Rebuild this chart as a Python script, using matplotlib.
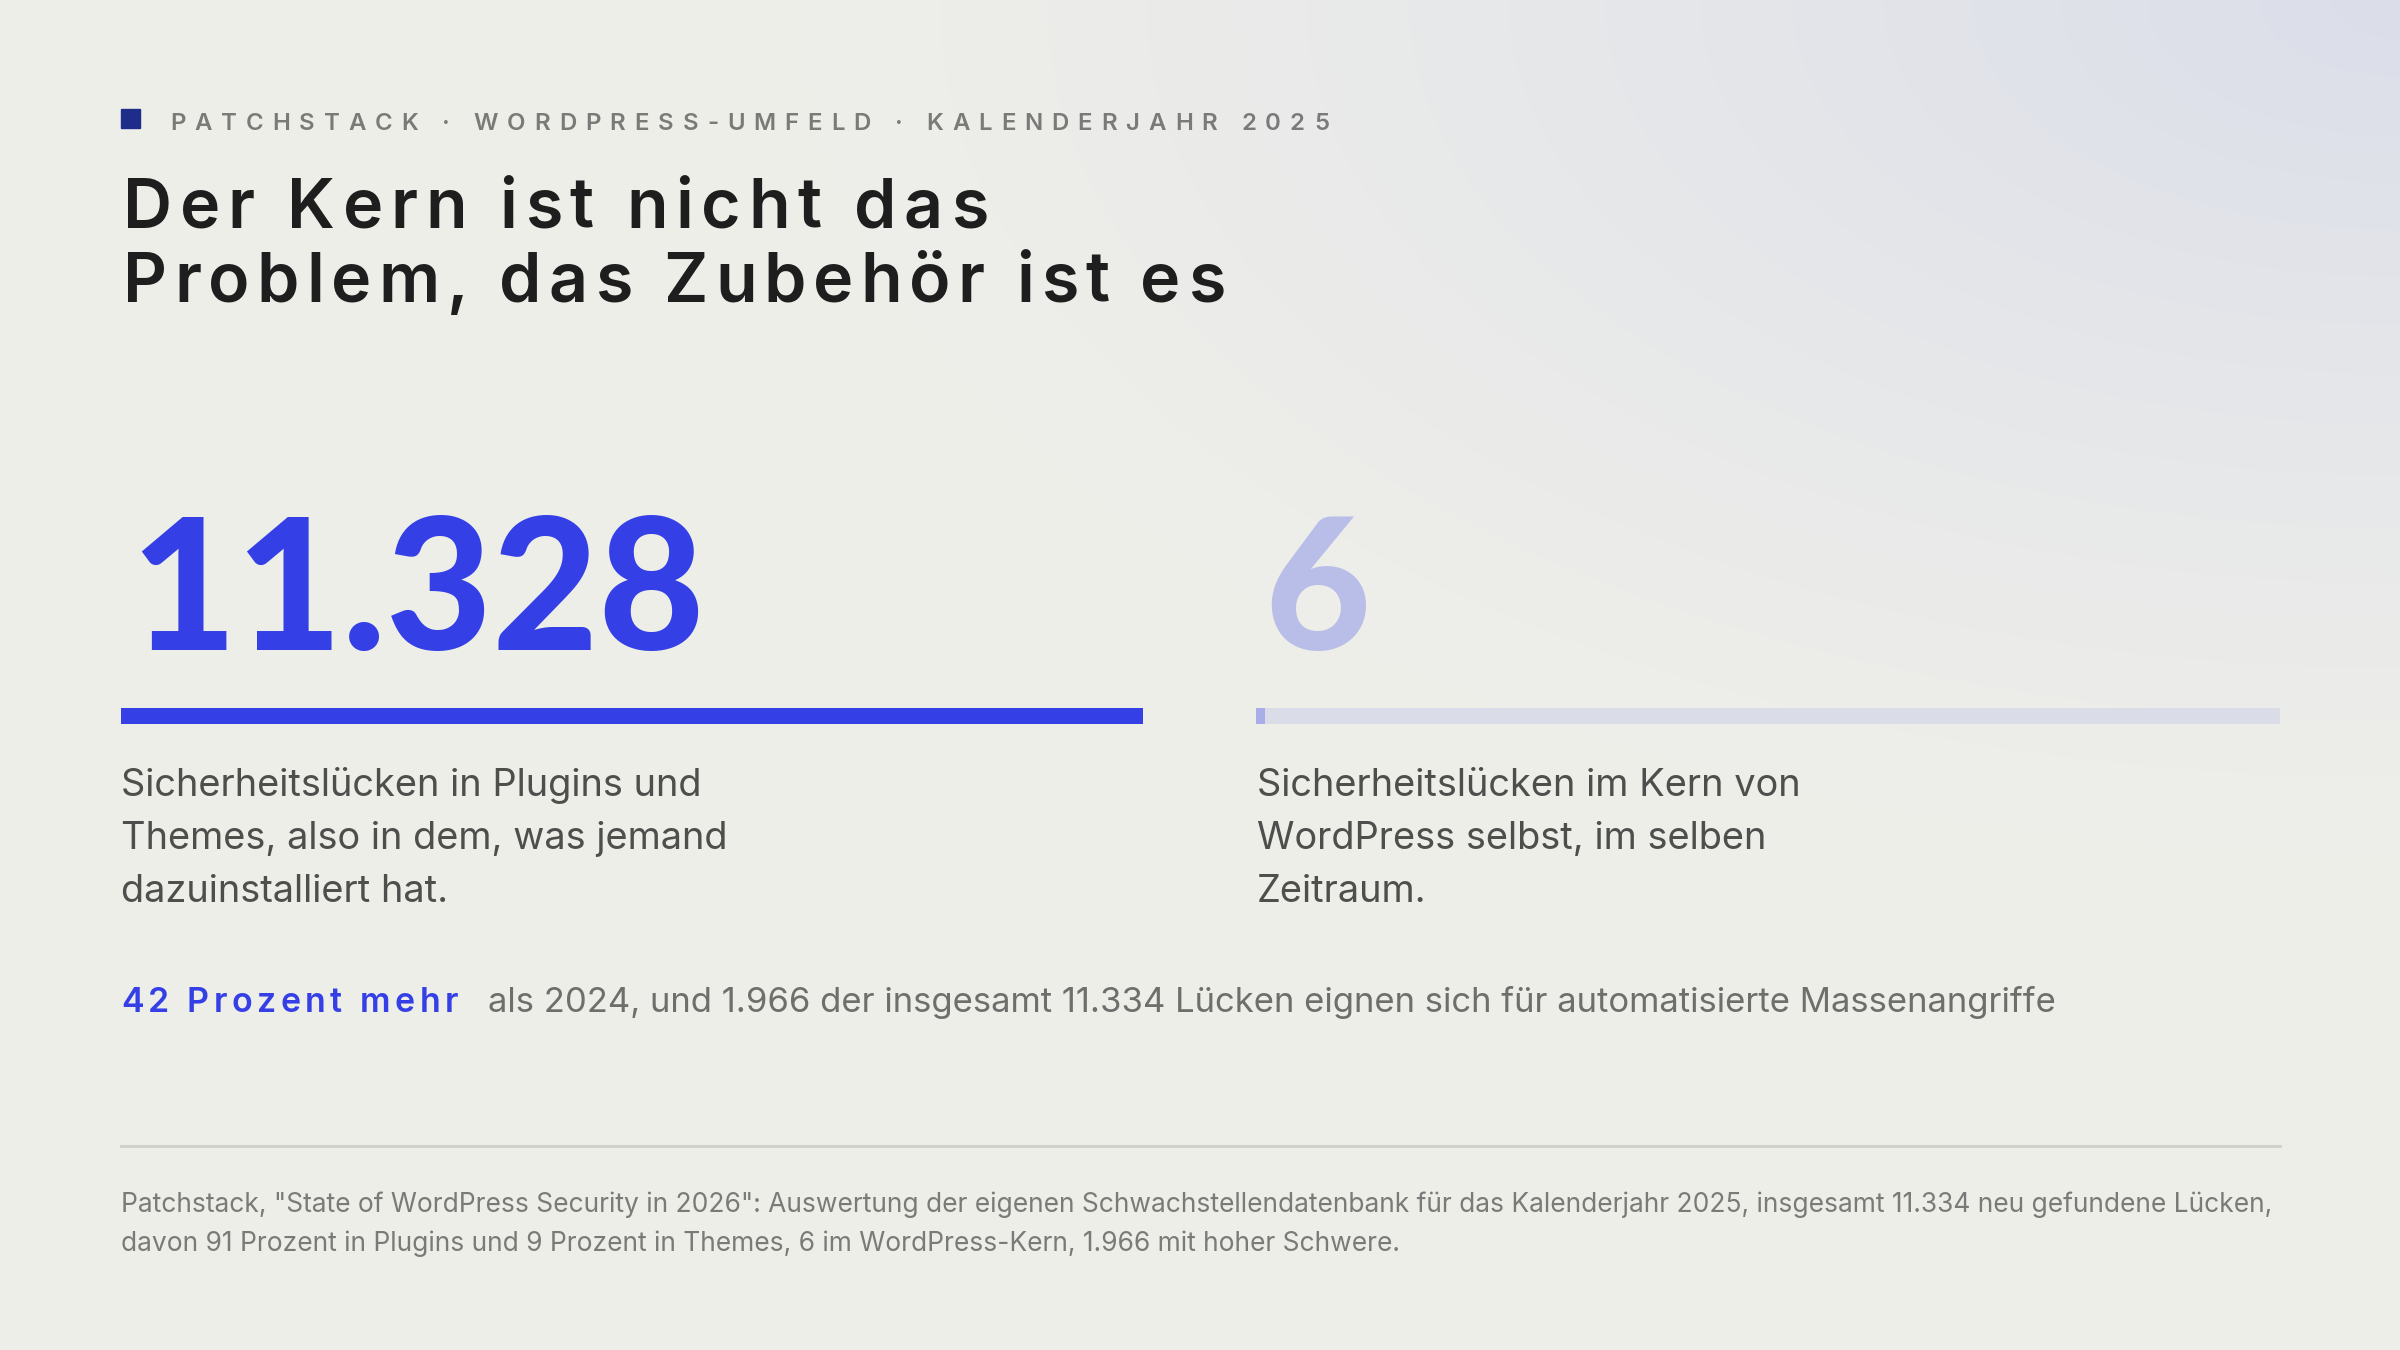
import matplotlib
matplotlib.use("Agg")
import matplotlib.pyplot as plt
import numpy as np
from matplotlib.font_manager import FontProperties

# ---------------- data ----------------
kicker = "PATCHSTACK · WORDPRESS-UMFELD · KALENDERJAHR 2025"
title_lines = ["Der Kern ist nicht das", "Problem, das Zubehör ist es"]
categories = ["Plugins und Themes", "WordPress-Kern"]
values = [11328, 6]
desc_left = ["Sicherheitslücken in Plugins und", "Themes, also in dem, was jemand", "dazuinstalliert hat."]
desc_right = ["Sicherheitslücken im Kern von", "WordPress selbst, im selben", "Zeitraum."]
highlight_strong = "42 Prozent mehr"
highlight_rest = "als 2024, und 1.966 der insgesamt 11.334 Lücken eignen sich für automatisierte Massenangriffe"
footer_lines = [
    'Patchstack, "State of WordPress Security in 2026": Auswertung der eigenen Schwachstellendatenbank für das Kalenderjahr 2025, insgesamt 11.334 neu gefundene Lücken,',
    "davon 91 Prozent in Plugins und 9 Prozent in Themes, 6 im WordPress-Kern, 1.966 mit hoher Schwere.",
]

# ---------------- style ----------------
W, H = 2400, 1350
BLUE = "#343FE6"
LIGHT_BLUE = "#B9BEE8"
TRACK = "#DADCE8"
STUB = "#A9AEE8"
NAVY = "#1F2D8A"

fig = plt.figure(figsize=(24, 13.5), dpi=100)
ax = fig.add_axes([0, 0, 1, 1])
ax.set_xlim(0, W)
ax.set_ylim(H, 0)
ax.axis("off")
renderer = fig.canvas.get_renderer()

# background gradient (warm off-white -> lavender top-right)
yy, xx = np.mgrid[0:H:4, 0:W:4]
d = np.sqrt(((W - xx) / 1600.0) ** 2 + (yy / 850.0) ** 2)
t = np.clip(1 - d, 0, 1) ** 1.2
base = np.array([238, 238, 233]) / 255.0
tint = np.array([219, 222, 234]) / 255.0
img = base[None, None, :] * (1 - t[..., None]) + tint[None, None, :] * t[..., None]
ax.imshow(img, extent=[0, W, H, 0], aspect="auto", zorder=0, interpolation="bilinear")


def fp(family, weight, px):
    return FontProperties(family=family, weight=weight, size=px * 72 / 100)


def twidth(s, prop):
    w, h, dsc = renderer.get_text_width_height_descent(s, prop, ismath=False)
    return w


def adv(s, prop):
    return twidth(s + "H", prop) - twidth("H", prop)


def tracked(x, y, s, prop, color, target_w):
    n = len(s)
    natural = twidth(s, prop)
    track = (target_w - natural) / (n - 1) if n > 1 else 0
    for i, ch in enumerate(s):
        if ch == " ":
            continue
        xi = x + adv(s[:i], prop) + i * track
        ax.text(xi, y, ch, fontproperties=prop, color=color, va="baseline", ha="left", zorder=3)
    return track


def fitted(x, y, s, family, weight, color, target_w, px0=40):
    prop = fp(family, weight, px0)
    scale = target_w / twidth(s, prop)
    prop = fp(family, weight, px0 * scale)
    ax.text(x, y, s, fontproperties=prop, color=color, va="baseline", ha="left", zorder=3)
    return px0 * scale


def german(v):
    return f"{v:,}".replace(",", ".")


LEFT = 121
# kicker
ax.add_patch(plt.Rectangle((121, 109), 19, 19, color=NAVY, zorder=3))
tracked(170, 130, kicker, fp("Inter", "semibold", 24), "#7A7A78", 1159)

# title
tprop = fp("Inter", "semibold", 68)
tracked(LEFT + 2, 228, title_lines[0], tprop, "#1E1E1E", 865)
tracked(LEFT + 2, 302, title_lines[1], tprop, "#1E1E1E", 1102)

# big numbers
big_px = fitted(130, 650, german(values[0]), "Lato", "black", BLUE, 575, px0=170)
ax.text(1264, 650, german(values[1]), fontproperties=fp("Lato", "black", big_px),
        color=LIGHT_BLUE, va="baseline", ha="left", zorder=3)

# bars through their own axes
vmax = max(values)
bar_specs = [(121, 1022, BLUE), (1256, 1024, STUB)]
for v, (x0, wpx, col) in zip(values, bar_specs):
    bax = fig.add_axes([x0 / W, 1 - 724 / H, wpx / W, 16 / H])
    bax.set_xlim(0, vmax)
    bax.set_ylim(-0.5, 0.5)
    bax.axis("off")
    bax.barh(0, vmax, height=1, color=TRACK, linewidth=0)
    bax.barh(0, max(v, vmax * 0.009), height=1, color=col, linewidth=0)

# descriptions
body_px = fitted(LEFT, 796, desc_left[0], "Inter", "normal", "#4E4E4C", 583)
for k, line in enumerate(desc_left[1:], start=1):
    ax.text(LEFT, 796 + 53 * k, line, fontproperties=fp("Inter", "normal", body_px),
            color="#4E4E4C", va="baseline", ha="left", zorder=3)
for k, line in enumerate(desc_right):
    ax.text(1257, 796 + 53 * k, line, fontproperties=fp("Inter", "normal", body_px),
            color="#4E4E4C", va="baseline", ha="left", zorder=3)

# highlight row
tracked(LEFT, 1012, highlight_strong, fp("Inter", "semibold", 34), BLUE, 337)
fitted(488, 1012, highlight_rest, "Inter", "normal", "#6E6E6C", 1568, px0=33)

# divider
ax.plot([121, 2280], [1146, 1146], color="#CFCFCA", lw=2, zorder=2)

# footer
foot_px = fitted(LEFT, 1212, footer_lines[0], "Inter", "normal", "#7A7A78", 2157, px0=26)
ax.text(LEFT, 1251, footer_lines[1], fontproperties=fp("Inter", "normal", foot_px),
        color="#7A7A78", va="baseline", ha="left", zorder=3)

fig.savefig("out.png", dpi=100)
